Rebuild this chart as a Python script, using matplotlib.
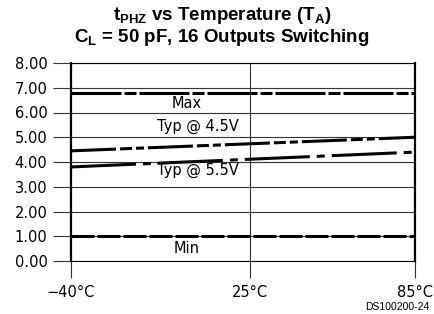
import matplotlib
matplotlib.use("Agg")
import matplotlib.pyplot as plt

plt.rcParams['mathtext.fontset'] = 'custom'
plt.rcParams['mathtext.rm'] = 'Liberation Sans:bold'
plt.rcParams['mathtext.bf'] = 'Liberation Sans:bold'
plt.rcParams['lines.scale_dashes'] = False

temps = [-40, 85]
max_vals = [6.8, 6.8]
typ45_vals = [4.45, 5.0]
typ55_vals = [3.8, 4.4]
min_vals = [1.0, 1.0]
yticks = [0, 1, 2, 3, 4, 5, 6, 7, 8]
ytick_labels = ["0.00", "1.00", "2.00", "3.00", "4.00", "5.00", "6.00", "7.00", "8.00"]
xticks = [-40, 25, 85]
xtick_labels = ["\u221240\u00b0C", "25\u00b0C", "85\u00b0C"]

px = 72 / 100.0  # points per pixel

fig = plt.figure(figsize=(4.35, 3.14), dpi=100)
ax = fig.add_axes([71/435, 1 - 261/314, (415-71)/435, (261-63)/314])
ax.set_xlim(-40, 85)
ax.set_ylim(0, 8)

for y in yticks:
    ax.axhline(y, color='#333333', lw=0.8, zorder=1)
ax.axvline(25, color='#333333', lw=0.8, zorder=1)

lw = 2.2
l, = ax.plot(temps, max_vals, color='black', lw=lw, dash_capstyle='butt')
l.set_dashes([50*px, 3*px, 12*px, 3*px])
l, = ax.plot(temps, typ45_vals, color='black', lw=lw, dash_capstyle='butt')
l.set_dashes([45*px, 4*px, 12*px, 4*px, 8*px, 4*px])
l, = ax.plot(temps, typ55_vals, color='black', lw=lw, dash_capstyle='butt')
l.set_dashes([65*px, 7*px, 8*px, 7*px])
l, = ax.plot(temps, min_vals, color='black', lw=lw, dash_capstyle='butt')
l.set_dashes([23*px, 3*px])

tf = dict(fontsize=10.5, family='DejaVu Sans', ha='center', va='center')
ax.text(2, 6.35, "Max", **tf)
ax.text(6, 5.42, "Typ @ 4.5V", **tf)
ax.text(6, 3.65, "Typ @ 5.5V", **tf)
ax.text(2, 0.5, "Min", **tf)

ax.set_yticks(yticks)
ax.set_yticklabels(ytick_labels, fontsize=10.5, family='DejaVu Sans')
ax.set_xticks(xticks)
ax.set_xticklabels(xtick_labels, fontsize=10.5, family='DejaVu Sans')
ax.tick_params(axis='y', direction='out', length=13, width=0.8, color='#333333', pad=4)
ax.tick_params(axis='x', direction='out', length=12, width=0.8, color='#333333', pad=5)

ax.spines['left'].set_linewidth(1.6)
ax.spines['right'].set_linewidth(1.6)
ax.spines['top'].set_linewidth(0.8)
ax.spines['bottom'].set_linewidth(0.8)

fig.text(0.51, 0.952, r"t$_\mathbf{PHZ}$ vs Temperature (T$_\mathbf{A}$)",
         fontsize=13.5, fontweight='bold', family='Liberation Sans', ha='center', va='center')
fig.text(0.51, 0.879, r"C$_\mathbf{L}$ = 50 pF, 16 Outputs Switching",
         fontsize=13.5, fontweight='bold', family='Liberation Sans', ha='center', va='center')
fig.text(0.988, 0.022, "DS100200-24", fontsize=7.5, family='Liberation Sans', ha='right', va='center')

fig.savefig("out.png", dpi=100)
